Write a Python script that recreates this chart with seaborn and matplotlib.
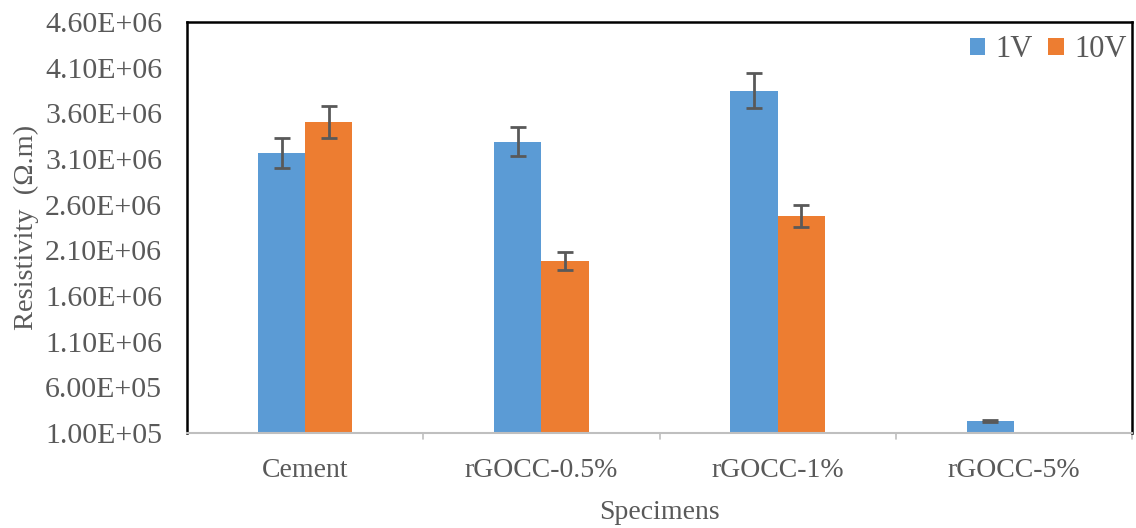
import matplotlib
matplotlib.use("Agg")
import matplotlib.pyplot as plt
import seaborn as sns
import pandas as pd
import numpy as np

categories = ["Cement", "rGOCC-0.5%", "rGOCC-1%", "rGOCC-5%"]
series = ["1V", "10V"]
values_1v = [3.17e6, 3.29e6, 3.85e6, 2.3e5]
values_10v = [3.51e6, 1.98e6, 2.48e6, 9.0e4]
err_1v = [1.65e5, 1.6e5, 1.9e5, 1.5e4]
err_10v = [1.75e5, 1.0e5, 1.2e5, 0.0]
yticks = [1.0e5, 6.0e5, 1.1e6, 1.6e6, 2.1e6, 2.6e6, 3.1e6, 3.6e6, 4.1e6, 4.6e6]

colors = ["#5B9BD5", "#ED7D31"]
text_color = "#595959"

df = pd.DataFrame({
    "Specimens": categories * 2,
    "Series": ["1V"] * 4 + ["10V"] * 4,
    "Value": values_1v + values_10v,
})

sns.set_theme(style="white")
plt.rcParams["font.family"] = ["Liberation Serif", "DejaVu Serif"]

fig = plt.figure(figsize=(11.36, 5.28), dpi=100)
ax = fig.add_axes([187 / 1136, 1 - 433 / 528, (1132 - 187) / 1136, (433 - 22) / 528])

sns.barplot(data=df, x="Specimens", y="Value", hue="Series", hue_order=series,
            palette=colors, width=0.4, errorbar=None, saturation=1, ax=ax,
            edgecolor="none", linewidth=0)

# error bars from bar geometry
errs = err_1v + err_10v
for patch, e in zip(ax.patches[:8], errs):
    if e <= 0:
        continue
    xc = patch.get_x() + patch.get_width() / 2
    h = patch.get_height()
    ax.errorbar(xc, h, yerr=e, fmt="none", ecolor="#595959", elinewidth=2,
                capsize=6, capthick=2, zorder=5)

ax.set_ylim(1.0e5, 4.6e6)
ax.set_xlim(-0.5, 3.5)
ax.set_yticks(yticks)
ax.set_yticklabels([f"{v:.2E}" for v in yticks])
ax.tick_params(axis="y", labelsize=21.5, colors=text_color, length=0, pad=18)
ax.tick_params(axis="x", labelsize=20, colors=text_color, length=0, pad=18)

# boundary tick marks
for b in [0.5, 1.5, 2.5, 3.5]:
    ax.plot([b, b], [0, -0.015], transform=ax.get_xaxis_transform(), color="#BFBFBF",
            lw=1.2, clip_on=False)

ax.set_xlabel("Specimens", fontsize=20, color=text_color, labelpad=12)
ax.set_ylabel("Resistivity  (Ω.m)", fontsize=20.5, color=text_color, labelpad=4)

for s in ["left", "top", "right"]:
    ax.spines[s].set_color("black")
    ax.spines[s].set_linewidth(1.8)
ax.spines["bottom"].set_color("#BFBFBF")
ax.spines["bottom"].set_linewidth(1.5)

leg = ax.legend(loc="upper right", frameon=False, fontsize=22, ncol=2,
                handlelength=0.5, handleheight=0.5, handletextpad=0.35,
                columnspacing=0.5, bbox_to_anchor=(1.014, 1.012), borderaxespad=0.2)
for t in leg.get_texts():
    t.set_color(text_color)

fig.savefig("out.png", dpi=100, facecolor="white")
